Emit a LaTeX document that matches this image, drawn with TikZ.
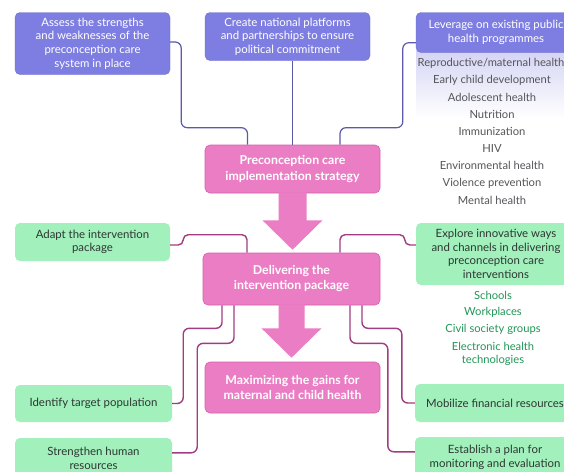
\documentclass[tikz,border=0pt]{standalone}
\usepackage{fontspec}
\setmainfont{Lato}
\usetikzlibrary{calc}

\definecolor{bluebox}{RGB}{126,126,226}
\definecolor{blueedge}{RGB}{110,110,205}
\definecolor{pinkbox}{RGB}{234,125,196}
\definecolor{pinkedge}{RGB}{214,98,172}
\definecolor{greenbox}{RGB}{162,240,188}
\definecolor{greentext}{RGB}{34,150,88}
\definecolor{darktext}{RGB}{45,55,50}
\definecolor{greytext}{RGB}{85,85,90}
\definecolor{topline}{RGB}{90,90,168}
\definecolor{botline}{RGB}{160,60,130}
\definecolor{lavender}{RGB}{212,212,244}

\tikzset{
  boxbase/.style={rounded corners=5pt, align=center, inner sep=0pt,
    font=\fontsize{11.4}{13.6}\selectfont},
  bluenode/.style={boxbase, fill=bluebox, draw=blueedge, line width=0.4pt, text=white},
  pinknode/.style={boxbase, fill=pinkbox, draw=pinkedge, line width=0.6pt, text=white,
    font=\fontsize{12.3}{15}\selectfont\bfseries},
  greennode/.style={boxbase, fill=greenbox, text=darktext},
  listitem/.style={inner sep=0pt, text=greytext, font=\fontsize{11.2}{13}\selectfont},
  subitem/.style={inner sep=0pt, align=center, text=greentext, font=\fontsize{11.2}{13}\selectfont},
  upconn/.style={draw=topline, line width=1.2pt, rounded corners=6pt},
  downconn/.style={draw=botline, line width=1.4pt, rounded corners=6pt},
  arrowfill/.style={fill=pinkbox},
}

\begin{document}
\begin{tikzpicture}[x=1pt, y=-1pt]
\useasboundingbox[fill=white] (0,0) rectangle (564,471);

% faded panel behind the programme list
\shade[top color=lavender, bottom color=white] (416,50) rectangle (575,118);

% top row
\node[bluenode, minimum width=155pt, minimum height=62pt] (a) at (92.5,43.5)
  {Assess the strengths\\and weaknesses of the\\preconception care\\system in place};
\node[bluenode, minimum width=165pt, minimum height=48pt] (b) at (287.5,36.5)
  {Create national platforms\\and partnerships to ensure\\political commitment};
\node[bluenode, minimum width=160pt, minimum height=40pt] (c) at (496,32.5)
  {Leverage on existing public\\health programmes};

% programme list
\node[listitem] (l1) at (491,63)  {Reproductive/maternal health};
\node[listitem] (l2) at (492,80)  {Early child development};
\node[listitem] (l3) at (492,97)  {Adolescent health};
\node[listitem] (l4) at (492,114) {Nutrition};
\node[listitem] (l5) at (492,131) {Immunization};
\node[listitem] (l6) at (492,148) {HIV};
\node[listitem] (l7) at (492,165) {Environmental health};
\node[listitem] (l8) at (492,183) {Violence prevention};
\node[listitem] (l9) at (492,200) {Mental health};

% central column
\node[pinknode, minimum width=175pt, minimum height=48pt] (p1) at (292.5,169)
  {\raisebox{-1.5pt}{\shortstack{Preconception care\\[1pt]implementation strategy}}};
\node[pinknode, minimum width=177pt, minimum height=52pt] (p2) at (291.5,279)
  {Delivering the\\intervention package};
\node[pinknode, minimum width=175pt, minimum height=51pt] (p3) at (292.5,387.5)
  {Maximizing the gains for\\maternal and child health};

% side actions
\node[greennode, minimum width=155pt, minimum height=38pt] (g1) at (92.5,242)
  {Adapt the intervention\\package};
\node[greennode, minimum width=160pt, minimum height=62pt] (g2) at (496,254)
  {Explore innovative ways\\and channels in delivering\\preconception care\\interventions};
\node[greennode, minimum width=157pt, minimum height=37pt] (g3) at (93.5,403.5)
  {Identify target population};
\node[greennode, minimum width=157pt, minimum height=41pt] (g4) at (93.5,458.5)
  {Strengthen human\\resources};
\node[greennode, minimum width=160pt, minimum height=38pt] (g5) at (495,403)
  {Mobilize financial resources};
\node[greennode, minimum width=160pt, minimum height=41pt] (g6) at (495,457.5)
  {Establish a plan for\\monitoring and evaluation};

% delivery channels
\node[subitem] (s1) at (493,295) {Schools};
\node[subitem] (s2) at (493,312) {Workplaces};
\node[subitem] (s3) at (493,329) {Civil society groups};
\node[subitem] (s4) at (493,353.5) {Electronic health\\technologies};

% connectors into the strategy box
\draw[upconn] ($(a.east)+(0,-1.5)$) -- ++(11,0)
  |- ($(p1.north)+(-45,-17)$) -- ($(p1.north)+(-45,0)$);
\draw[upconn] (p1.north |- b.south) -- (p1.north);
\draw[upconn] ($(c.south west)+(0,-10)$) -- ++(-13,0)
  |- ($(p1.north)+(47.5,-17)$) -- ($(p1.north)+(47.5,0)$);

% connectors into the delivery box
\draw[downconn, rounded corners=5pt] ($(g1.east)+(0,3)$) -- ++(13,0)
  |- ($(p2.north)+(-44.5,-18)$) -- ($(p2.north)+(-44.5,0)$);
\draw[downconn, rounded corners=5pt] ($(g2.west)+(0,-9)$) -- ++(-11,0)
  |- ($(p2.north)+(48.5,-18)$) -- ($(p2.north)+(48.5,0)$);

% connectors out of the delivery box
\draw[downconn] ($(p2.south)+(-69.5,0)$) -- ++(0,23)
  -| ($(g3.east)+(11,0)$) -- (g3.east);
\draw[downconn] ($(p2.south)+(-57.5,0)$) -- ++(0,38)
  -| ($(g4.north east)+(25,15)$) -- ($(g4.north east)+(0,15)$);
\draw[downconn] ($(p2.south)+(70.5,0)$) -- ++(0,23)
  -| ($(g5.west)+(-13,0)$) -- (g5.west);
\draw[downconn] ($(p2.south)+(58.5,0)$) -- ++(0,38)
  -| ($(g6.north west)+(-27,15)$) -- ($(g6.north west)+(0,15)$);

% block arrows between the central stages
\fill[arrowfill] ($(p1.south)+(-14,-1)$) -- ($(p1.south)+(14,-1)$)
  -- ($(p1.south)+(14,27)$) -- ($(p1.south)+(30,27)$)
  -- ($(p1.south |- p2.north)+(0,-3)$)
  -- ($(p1.south)+(-30,27)$) -- ($(p1.south)+(-14,27)$) -- cycle;
\fill[arrowfill] ($(p2.south)+(-13,-1)$) -- ($(p2.south)+(13,-1)$)
  -- ($(p2.south)+(13,23)$) -- ($(p2.south)+(30,23)$)
  -- ($(p2.south |- p3.north)+(0,-4)$)
  -- ($(p2.south)+(-30,23)$) -- ($(p2.south)+(-13,23)$) -- cycle;
\end{tikzpicture}
\end{document}
